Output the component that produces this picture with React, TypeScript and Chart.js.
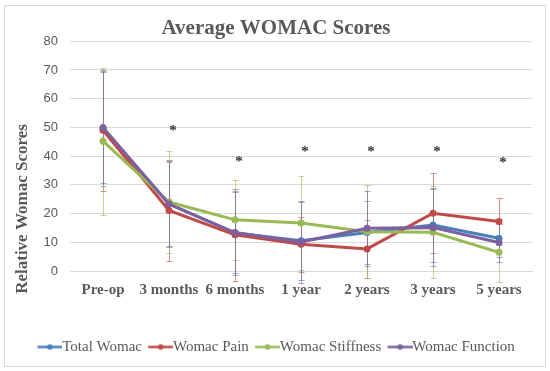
import React, { useEffect, useRef } from "react";
import { Chart, registerables } from "chart.js";

Chart.register(...registerables);

const categories = ["Pre-op", "3 months", "6 months", "1 year", "2 years", "3 years", "5 years"];

const totalWomac = [49.5, 23.3, 13.2, 10.5, 13.4, 16.0, 11.4];
const womacPain = [49.0, 21.1, 12.6, 9.3, 7.7, 20.1, 17.2];
const womacStiffness = [45.2, 24.0, 17.8, 16.7, 13.7, 13.5, 6.5];
const womacFunction = [50.0, 23.3, 13.4, 10.1, 14.9, 15.1, 9.9];

const totalErr = [20.0, 15.0, 14.5, 13.5, 11.0, 13.0, 6.6];
const painErr = [21.0, 17.5, 16.0, 9.5, 10.1, 14.0, 8.1];
const stiffnessErr = [25.6, 17.8, 13.9, 16.2, 16.1, 16.0, 10.2];
const functionErr = [19.4, 14.7, 14.0, 14.3, 13.1, 13.4, 6.6];

const asteriskLevels: (number | null)[] = [null, 50.0, 39.0, 42.6, 42.6, 42.6, 38.7];

const yMin = 0;
const yMax = 80;
const yStep = 10;

const SERIF = "'Liberation Serif', 'Times New Roman', serif";
const SANS = "'Liberation Sans', Arial, sans-serif";
const TEXT = "#595959";
const GRID = "#D9D9D9";

const COLORS = {
  total: "#4A7EBB",
  pain: "#BE4B48",
  stiff: "#98B954",
  func: "#7D60A0",
};

function hexA(hex: string, a: number) {
  const r = parseInt(hex.slice(1, 3), 16);
  const g = parseInt(hex.slice(3, 5), 16);
  const b = parseInt(hex.slice(5, 7), 16);
  return `rgba(${r},${g},${b},${a})`;
}

function makeMarker(color: string) {
  const c = document.createElement("canvas");
  c.width = 33;
  c.height = 9;
  const ctx = c.getContext("2d")!;
  ctx.strokeStyle = color;
  ctx.lineWidth = 2.5;
  ctx.beginPath();
  ctx.moveTo(8, 4.5);
  ctx.lineTo(33, 4.5);
  ctx.stroke();
  ctx.fillStyle = color;
  ctx.beginPath();
  ctx.arc(20.5, 4.5, 2.8, 0, Math.PI * 2);
  ctx.fill();
  return c;
}

const framePlugin = {
  id: "frame",
  beforeDraw(chart: any) {
    const ctx = chart.ctx;
    ctx.save();
    ctx.fillStyle = "#ffffff";
    ctx.fillRect(0, 0, chart.width, chart.height);
    ctx.strokeStyle = GRID;
    ctx.lineWidth = 1;
    ctx.strokeRect(4.5, 5.5, 541, 361);
    ctx.restore();
  },
};

const errorBarPlugin = {
  id: "errorBars",
  beforeDatasetsDraw(chart: any) {
    const ctx = chart.ctx;
    const yScale = chart.scales.y;
    chart.data.datasets.forEach((ds: any, di: number) => {
      const meta = chart.getDatasetMeta(di);
      if (!ds.errors) return;
      ctx.save();
      ctx.strokeStyle = ds.errorColor;
      ctx.lineWidth = 1;
      ds.data.forEach((v: number, i: number) => {
        const e = ds.errors[i];
        const pt = meta.data[i];
        if (!pt || e == null) return;
        const x = Math.round(pt.x) + 0.5;
        const yt = Math.round(yScale.getPixelForValue(v + e)) + 0.5;
        const yb = Math.round(yScale.getPixelForValue(v - e)) + 0.5;
        ctx.beginPath();
        ctx.moveTo(x, yt);
        ctx.lineTo(x, yb);
        ctx.moveTo(x - 3, yt);
        ctx.lineTo(x + 3, yt);
        ctx.moveTo(x - 3, yb);
        ctx.lineTo(x + 3, yb);
        ctx.stroke();
      });
      ctx.restore();
    });
  },
};

const asteriskPlugin = {
  id: "asterisks",
  afterDatasetsDraw(chart: any) {
    const ctx = chart.ctx;
    const xScale = chart.scales.x;
    const yScale = chart.scales.y;
    const size = 15;
    ctx.save();
    ctx.fillStyle = "#333333";
    ctx.font = `bold ${size}px ${SERIF}`;
    ctx.textAlign = "center";
    ctx.textBaseline = "alphabetic";
    asteriskLevels.forEach((v, i) => {
      if (v == null) return;
      const x = xScale.getPixelForValue(i) + 4;
      const y = yScale.getPixelForValue(v);
      ctx.fillText("*", x, y + size * 0.5);
    });
    ctx.restore();
  },
};

const yTitlePlugin = {
  id: "yTitle",
  afterDraw(chart: any) {
    const ctx = chart.ctx;
    ctx.save();
    ctx.translate(23, 209);
    ctx.rotate(-Math.PI / 2);
    ctx.fillStyle = TEXT;
    ctx.font = `bold 17px ${SERIF}`;
    ctx.textAlign = "center";
    ctx.textBaseline = "middle";
    ctx.fillText("Relative Womac Scores", 0, 0);
    ctx.restore();
  },
};

export default function App() {
  const ref = useRef<HTMLCanvasElement>(null);

  useEffect(() => {
    document.body.style.margin = "0";
    const canvas = ref.current!;
    const mk = (label: string, data: number[], errors: number[], color: string, order: number) => ({
      label,
      data,
      errors,
      errorColor: hexA(color, 0.6),
      borderColor: color,
      backgroundColor: color,
      borderWidth: 3,
      pointRadius: 3.5,
      pointBackgroundColor: color,
      pointBorderColor: color,
      pointBorderWidth: 0,
      tension: 0,
      fill: false,
      order,
    });

    const chart = new Chart(canvas, {
      type: "line",
      data: {
        labels: categories,
        datasets: [
          mk("Total Womac", totalWomac, totalErr, COLORS.total, 4),
          mk("Womac Pain", womacPain, painErr, COLORS.pain, 3),
          mk("Womac Stiffness", womacStiffness, stiffnessErr, COLORS.stiff, 2),
          mk("Womac Function", womacFunction, functionErr, COLORS.func, 1),
        ] as any,
      },
      options: {
        responsive: false,
        animation: false,
        layout: { padding: { left: 20, right: 18, top: 0, bottom: 6.5 } },
        plugins: {
          title: {
            display: true,
            text: "Average WOMAC Scores",
            color: TEXT,
            font: { family: SERIF, size: 21, weight: "bold" },
            padding: { top: 16, bottom: 0 },
          },
          legend: {
            position: "bottom",
            labels: {
              usePointStyle: true,
              pointStyleWidth: 17.5,
              padding: 6,
              color: TEXT,
              font: { family: SERIF, size: 15 },
              generateLabels: (ch: any) =>
                ch.data.datasets.map((ds: any, i: number) => ({
                  text: ds.label,
                  fillStyle: ds.borderColor,
                  strokeStyle: ds.borderColor,
                  lineWidth: 0,
                  pointStyle: makeMarker(ds.borderColor),
                  hidden: false,
                  datasetIndex: i,
                  fontColor: TEXT,
                })),
            },
          },
          tooltip: { enabled: false },
        },
        scales: {
          x: {
            offset: true,
            grid: { display: false, drawTicks: false, offset: true },
            border: { display: true, color: GRID },
            ticks: {
              color: TEXT,
              font: { family: SERIF, size: 15, weight: "bold" },
              padding: 10,
              autoSkip: false,
              maxRotation: 0,
            },
            afterFit: (s: any) => {
              s.height = 62.5;
            },
          },
          y: {
            min: yMin,
            max: yMax,
            ticks: {
              stepSize: yStep,
              padding: 12,
              color: TEXT,
              font: { family: SANS, size: 13 },
            },
            grid: { color: GRID, drawTicks: false },
            border: { display: false },
            afterFit: (s: any) => {
              s.width = 50;
            },
          },
        },
      } as any,
      plugins: [framePlugin, errorBarPlugin, asteriskPlugin, yTitlePlugin],
    });
    return () => chart.destroy();
  }, []);

  return (
    <div style={{ width: 550, height: 371 }}>
      <canvas ref={ref} width={550} height={371} style={{ display: "block" }} />
    </div>
  );
}
